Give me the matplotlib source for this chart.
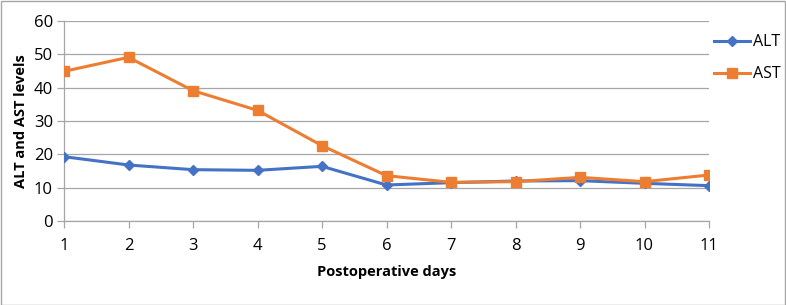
import matplotlib
matplotlib.use("Agg")
import matplotlib.pyplot as plt
from matplotlib.patches import Rectangle

days = [1, 2, 3, 4, 5, 6, 7, 8, 9, 10, 11]
alt = [19.3, 16.8, 15.4, 15.2, 16.4, 10.8, 11.5, 12.0, 12.1, 11.3, 10.6]
ast = [44.9, 49.1, 39.1, 33.2, 22.6, 13.6, 11.6, 11.8, 13.1, 11.8, 13.8]
yticks = [0, 10, 20, 30, 40, 50, 60]

plt.rcParams['font.family'] = ['Open Sans', 'DejaVu Sans']

fig = plt.figure(figsize=(7.86, 3.05), dpi=100)
ax = fig.add_axes([64/786, 1-221/305, (709-64)/786, (221-21)/305])

ax.plot(days, alt, color='#4472C4', lw=2.2, marker='D', ms=5, label='ALT', zorder=3)
ax.plot(days, ast, color='#ED7D31', lw=2.2, marker='s', ms=7, label='AST', zorder=3)

ax.set_xlim(1, 11)
ax.set_ylim(0, 60)
ax.set_yticks(yticks)
ax.set_xticks(days)
ax.grid(axis='y', color='#A6A6A6', lw=0.9)
ax.set_axisbelow(True)
for s in ['top', 'right']:
    ax.spines[s].set_visible(False)
for s in ['left', 'bottom']:
    ax.spines[s].set_color('#A6A6A6')
    ax.spines[s].set_linewidth(0.9)
ax.tick_params(axis='both', colors='#A6A6A6', length=5, width=0.9, labelsize=12,
               labelcolor='#000000')
ax.tick_params(axis='x', pad=7)
ax.tick_params(axis='y', pad=3)

ax.set_xlabel('Postoperative days', fontsize=10.5, fontweight='bold', labelpad=8)
ax.set_ylabel('ALT and AST levels', fontsize=10.5, fontweight='bold', labelpad=4)

leg = fig.legend(loc='upper left', bbox_to_anchor=(708/786, 1-28/305), frameon=False,
                 fontsize=11.5, handlelength=2.2, handletextpad=0.2, labelspacing=1.0,
                 borderaxespad=0)

fig.patches.append(Rectangle((0.5/786, 0.5/305), 1-1.5/786, 1-1.5/305, transform=fig.transFigure,
                             fill=False, edgecolor='#A6A6A6', lw=1))

fig.savefig('out.png', dpi=100)
